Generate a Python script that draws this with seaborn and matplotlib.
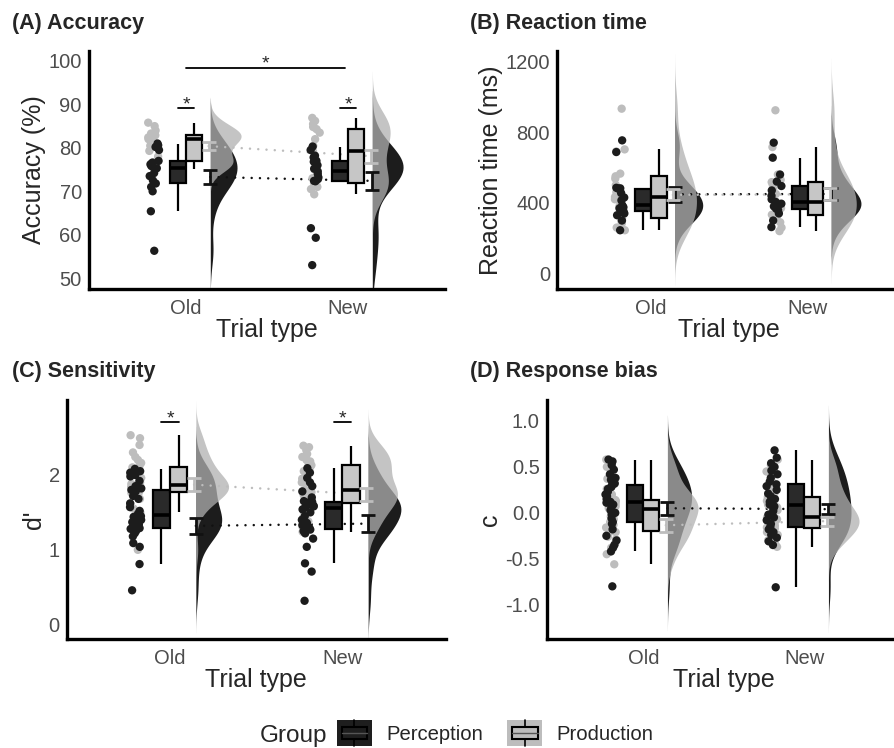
import numpy as np
import pandas as pd
import matplotlib

matplotlib.use("Agg")
import matplotlib.pyplot as plt
import seaborn as sns
from matplotlib.patches import Patch, Rectangle
from matplotlib.lines import Line2D
from matplotlib.legend_handler import HandlerBase

TRIALS = ["Old", "New"]
GROUPS = ["Perception", "Production"]

# (A) accuracy (%)
acc_perc_old = [56.3, 65.4, 70.0, 71.0, 71.8, 72.5, 73.5, 74.2, 75.3, 75.8, 76.2, 76.6, 77.0, 79.5, 80.2, 80.6, 81.0]
acc_perc_new = [53.0, 59.3, 61.5, 72.3, 72.4, 72.8, 73.2, 74.0, 74.6, 75.2, 76.0, 76.8, 77.0, 77.8, 78.2, 79.5, 80.3]
acc_prod_old = [75.2, 75.8, 76.3, 76.7, 77.0, 78.0, 79.3, 80.5, 82.0, 82.2, 82.4, 82.6, 82.9, 83.3, 84.0, 85.0, 85.8]
acc_prod_new = [69.3, 70.5, 71.0, 71.5, 71.9, 73.0, 75.0, 77.5, 79.2, 80.5, 82.0, 83.5, 84.3, 84.8, 85.5, 86.2, 86.9]
acc_mean_perc = [73.3, 72.4]
acc_se_perc = [1.7, 2.1]
acc_mean_prod = [80.4, 78.1]
acc_se_prod = [0.95, 1.5]

# (B) reaction time (ms)
rt_perc_old = [245, 300, 330, 340, 354, 358, 369, 375, 386, 414, 430, 455, 480, 482, 485, 687, 753]
rt_perc_new = [263, 300, 340, 360, 367, 380, 385, 395, 405, 420, 440, 470, 495, 520, 560, 655, 740]
rt_prod_old = [245, 260, 283, 300, 316, 380, 400, 420, 433, 460, 500, 537, 550, 565, 690, 702, 932]
rt_prod_new = [240, 260, 290, 320, 333, 350, 370, 390, 405, 450, 480, 500, 517, 530, 560, 715, 923]
rt_mean_perc = [448, 450]
rt_se_perc = [42, 36]
rt_mean_prod = [445, 448]
rt_se_prod = [31, 33]

# (C) sensitivity d'
dp_perc_old = [0.46, 0.81, 1.04, 1.09, 1.18, 1.22, 1.25, 1.28, 1.29, 1.31, 1.34, 1.37, 1.40, 1.42, 1.44, 1.45,
               1.48, 1.52, 1.57, 1.62, 1.68, 1.72, 1.78, 1.80, 1.82, 1.85, 1.92, 1.98, 2.00, 2.03, 2.05, 2.08]
dp_perc_new = [0.32, 0.71, 0.82, 1.04, 1.15, 1.22, 1.25, 1.27, 1.28, 1.30, 1.33, 1.36, 1.40, 1.45, 1.50, 1.54,
               1.57, 1.58, 1.59, 1.60, 1.61, 1.62, 1.63, 1.64, 1.65, 1.70, 1.78, 1.85, 1.90, 1.96, 2.03, 2.09]
dp_prod_old = [1.00, 1.50, 1.55, 1.62, 1.68, 1.72, 1.75, 1.76, 1.77, 1.79, 1.80, 1.82, 1.83, 1.84, 1.85, 1.86,
               1.86, 1.88, 1.90, 1.93, 1.96, 2.00, 2.05, 2.10, 2.12, 2.16, 2.20, 2.24, 2.30, 2.40, 2.49, 2.53]
dp_prod_new = [1.24, 1.30, 1.38, 1.42, 1.50, 1.55, 1.60, 1.62, 1.63, 1.66, 1.70, 1.73, 1.75, 1.77, 1.78, 1.79,
               1.80, 1.84, 1.90, 1.95, 2.00, 2.05, 2.10, 2.13, 2.15, 2.18, 2.20, 2.24, 2.28, 2.33, 2.37, 2.39]
dp_mean_perc = [1.32, 1.35]
dp_se_perc = [0.105, 0.116]
dp_mean_prod = [1.87, 1.74]
dp_se_prod = [0.085, 0.09]

# (D) response bias c
c_perc_old = [-0.80, -0.42, -0.38, -0.35, -0.30, -0.25, -0.18, -0.12, -0.10, -0.06, -0.02, 0.00, 0.03, 0.06, 0.09, 0.11,
              0.12, 0.15, 0.18, 0.20, 0.23, 0.26, 0.28, 0.30, 0.32, 0.36, 0.38, 0.42, 0.47, 0.52, 0.56, 0.58]
c_perc_new = [-0.81, -0.35, -0.31, -0.27, -0.24, -0.21, -0.18, -0.17, -0.15, -0.12, -0.08, -0.05, -0.02, 0.02, 0.05, 0.07,
              0.09, 0.12, 0.15, 0.18, 0.21, 0.25, 0.29, 0.31, 0.34, 0.38, 0.42, 0.46, 0.50, 0.54, 0.60, 0.68]
c_prod_old = [-0.56, -0.45, -0.38, -0.33, -0.29, -0.26, -0.23, -0.21, -0.19, -0.16, -0.13, -0.10, -0.07, -0.04, 0.00, 0.03,
              0.05, 0.07, 0.08, 0.09, 0.10, 0.11, 0.13, 0.14, 0.15, 0.20, 0.26, 0.31, 0.37, 0.44, 0.50, 0.58]
c_prod_new = [-0.37, -0.34, -0.30, -0.27, -0.24, -0.21, -0.19, -0.17, -0.16, -0.14, -0.12, -0.10, -0.08, -0.07, -0.06, -0.05,
              -0.05, -0.03, 0.00, 0.03, 0.06, 0.09, 0.13, 0.17, 0.18, 0.22, 0.27, 0.33, 0.39, 0.45, 0.52, 0.58]
c_mean_perc = [0.05, 0.04]
c_se_perc = [0.072, 0.055]
c_mean_prod = [-0.135, -0.09]
c_se_prod = [0.07, 0.05]

DOT = {"Perception": "#1c1c1c", "Production": "#bdbdbd"}
BOX = {"Perception": "#2a2a2a", "Production": "#c6c6c6"}
VIO = {"Perception": "#1c1c1c", "Production": "#b0b0b0"}
LINE = {"Perception": "#111111", "Production": "#bdbdbd"}

VIO_START = 0.15   # flat edge of the half violins, right of each trial type


def long_df(perc_old, perc_new, prod_old, prod_new):
    parts = []
    for grp, trial, vals in [("Production", "Old", prod_old), ("Production", "New", prod_new),
                             ("Perception", "Old", perc_old), ("Perception", "New", perc_new)]:
        parts.append(pd.DataFrame({"group": grp, "trial": trial, "value": vals}))
    df = pd.concat(parts, ignore_index=True)
    df["pos"] = df["trial"].map({"Old": 0.0, "New": 1.0})
    return df


def raincloud(ax, df, means, ses, vwidths):
    # jittered raw points
    sns.stripplot(data=df.assign(x=df["pos"] - 0.2), x="x", y="value", hue="group", palette=DOT,
                  native_scale=True, jitter=0.035, size=6, linewidth=0, legend=False, ax=ax, zorder=2)
    # boxes
    sns.boxplot(data=df, x="pos", y="value", hue="group", hue_order=GROUPS, palette=BOX,
                native_scale=True, width=0.2, gap=0, dodge=True, linecolor="black", linewidth=1.6,
                showfliers=False, showcaps=False, saturation=1, legend=False, ax=ax,
                medianprops={"linewidth": 2.6, "color": "black"}, zorder=3)
    # half violins, both on the right side (second hue level of a split violin)
    for grp, order in [("Perception", ["Production", "Perception"]),
                       ("Production", ["Perception", "Production"])]:
        for i, trial in enumerate(TRIALS):
            w = vwidths[grp][i]
            sub = df[(df["group"] == grp) & (df["trial"] == trial)]
            sub = sub.assign(x=sub["pos"] + VIO_START + w / 2)
            sns.violinplot(data=sub, x="x", y="value", hue="group", hue_order=order, palette=VIO,
                           native_scale=True, split=True, dodge=False, inner=None, linewidth=0,
                           density_norm="width", width=w, cut=3, saturation=1, legend=False,
                           alpha=1.0 if grp == "Perception" else 0.75, ax=ax)
    # means +/- SE joined across trial types
    for grp, dx in [("Perception", 0.15), ("Production", 0.14)]:
        xs = [0 + dx, 1 + dx]
        ax.plot(xs, means[grp], ls=(0, (0.01, 3.3)), lw=1.8, color=LINE[grp],
                dash_capstyle="round", zorder=1)
        ax.errorbar(xs, means[grp], yerr=ses[grp], fmt="none", ecolor=LINE[grp], elinewidth=2,
                    capsize=5, capthick=2, zorder=5)


def style(ax, ylim, yticks, ylabel, labels=None):
    ax.set_xlim(-0.6, 1.6)
    ax.set_ylim(ylim)
    ax.set_yticks(yticks)
    if labels is not None:
        ax.set_yticklabels(labels)
    ax.set_xticks([0, 1], TRIALS)
    ax.set_xlabel("Trial type", fontsize=18, labelpad=0)
    ax.set_ylabel(ylabel, fontsize=18, labelpad=2)
    for s in ["top", "right"]:
        ax.spines[s].set_visible(False)
    for s in ["left", "bottom"]:
        ax.spines[s].set_linewidth(2.4)
        ax.spines[s].set_color("black")
    ax.tick_params(length=4, width=1, color="#333333", labelcolor="#4d4d4d", labelsize=14.5)
    ax.tick_params(axis="x", pad=3)
    ax.tick_params(axis="y", pad=1)
    ax.grid(False)


def sig(ax, x0, x1, y):
    ax.plot([x0, x1], [y, y], color="black", lw=1.3)
    ax.annotate("*", xy=((x0 + x1) / 2, y), xytext=(0, -1), textcoords="offset points",
                ha="center", va="baseline", fontsize=14)


class BoxKey(HandlerBase):
    def create_artists(self, legend, orig_handle, xdescent, ydescent, width, height, fontsize, trans):
        fc = orig_handle.get_facecolor()
        x0, y0 = -xdescent, -ydescent
        bg = Rectangle((x0, y0), width, height, facecolor=fc, edgecolor="none", transform=trans)
        whisk = Line2D([x0 + width / 2] * 2, [y0, y0 + height], color="black", lw=1.2, transform=trans)
        box = Rectangle((x0 + 0.13 * width, y0 + 0.25 * height), 0.74 * width, 0.5 * height,
                        facecolor=fc, edgecolor="black", lw=1.5, transform=trans)
        med = Line2D([x0 + 0.13 * width, x0 + 0.87 * width], [y0 + height / 2] * 2, color="#555555",
                     lw=1.0, transform=trans)
        return [bg, whisk, box, med]


def main():
    np.random.seed(3)
    sns.set_style("white")
    plt.rcParams["font.family"] = ["Liberation Sans", "DejaVu Sans"]
    plt.rcParams["axes.unicode_minus"] = False

    W, H = 895, 748
    fig = plt.figure(figsize=(W / 100, H / 100), dpi=100)

    def add_axes(left, right, top, bottom):
        return fig.add_axes([left / W, 1 - bottom / H, (right - left) / W, (bottom - top) / H])

    ax_a = add_axes(88.8, 445.2, 51, 289)
    ax_b = add_axes(557.0, 901.7, 51, 289)
    ax_c = add_axes(66.6, 445.7, 400, 639)
    ax_d = add_axes(546.7, 900.9, 400, 639)

    panels = [
        (ax_a, long_df(acc_perc_old, acc_perc_new, acc_prod_old, acc_prod_new),
         {"Perception": acc_mean_perc, "Production": acc_mean_prod},
         {"Perception": acc_se_perc, "Production": acc_se_prod},
         {"Perception": [0.165, 0.19], "Production": [0.19, 0.11]},
         (47.5, 102.3), [50, 60, 70, 80, 90, 100], "Accuracy (%)", None),
        (ax_b, long_df(rt_perc_old, rt_perc_new, rt_prod_old, rt_prod_new),
         {"Perception": rt_mean_perc, "Production": rt_mean_prod},
         {"Perception": rt_se_perc, "Production": rt_se_prod},
         {"Perception": [0.18, 0.19], "Production": [0.14, 0.16]},
         (-87, 1258), [0, 400, 800, 1200], "Reaction time (ms)", None),
        (ax_c, long_df(dp_perc_old, dp_perc_new, dp_prod_old, dp_prod_new),
         {"Perception": dp_mean_perc, "Production": dp_mean_prod},
         {"Perception": dp_se_perc, "Production": dp_se_prod},
         {"Perception": [0.15, 0.19], "Production": [0.19, 0.17]},
         (-0.19, 3.0), [0, 1, 2], "d'", None),
        (ax_d, long_df(c_perc_old, c_perc_new, c_prod_old, c_prod_new),
         {"Perception": c_mean_perc, "Production": c_mean_prod},
         {"Perception": c_se_perc, "Production": c_se_prod},
         {"Perception": [0.15, 0.14], "Production": [0.19, 0.19]},
         (-1.373, 1.228), [-1.0, -0.5, 0.0, 0.5, 1.0], "c",
         ["-1.0", "-0.5", "0.0", "0.5", "1.0"]),
    ]
    for ax, df, means, ses, vwidths, ylim, yticks, ylabel, labels in panels:
        raincloud(ax, df, means, ses, vwidths)
        style(ax, ylim, yticks, ylabel, labels)

    sig(ax_a, -0.05, 0.05, 89.2)
    sig(ax_a, 0.95, 1.05, 89.2)
    sig(ax_a, 0.0, 0.98, 98.5)
    sig(ax_c, -0.05, 0.05, 2.70)
    sig(ax_c, 0.95, 1.05, 2.70)

    for x, y, t in [(12, 29.3, "(A) Accuracy"), (470, 29.3, "(B) Reaction time"),
                    (12, 377.5, "(C) Sensitivity"), (470, 377.5, "(D) Response bias")]:
        fig.text(x / W, 1 - y / H, t, fontsize=15.5, fontweight="bold", va="baseline", ha="left")

    fig.text(260 / W, 1 - 741.7 / H, "Group", fontsize=17.5, va="baseline", ha="left")
    handles = [Patch(facecolor="#1e1e1e", label="Perception"),
               Patch(facecolor="#bdbdbd", label="Production")]
    fig.legend(handles=handles, loc="center left", bbox_to_anchor=(337 / W, 1 - 733 / H), ncol=2,
               frameon=False, fontsize=14.6, borderpad=0, borderaxespad=0, handlelength=1.72,
               handleheight=1.53, handletextpad=0.7, columnspacing=1.2,
               handler_map={Patch: BoxKey()})

    fig.savefig("out.png", dpi=100)


if __name__ == "__main__":
    main()
